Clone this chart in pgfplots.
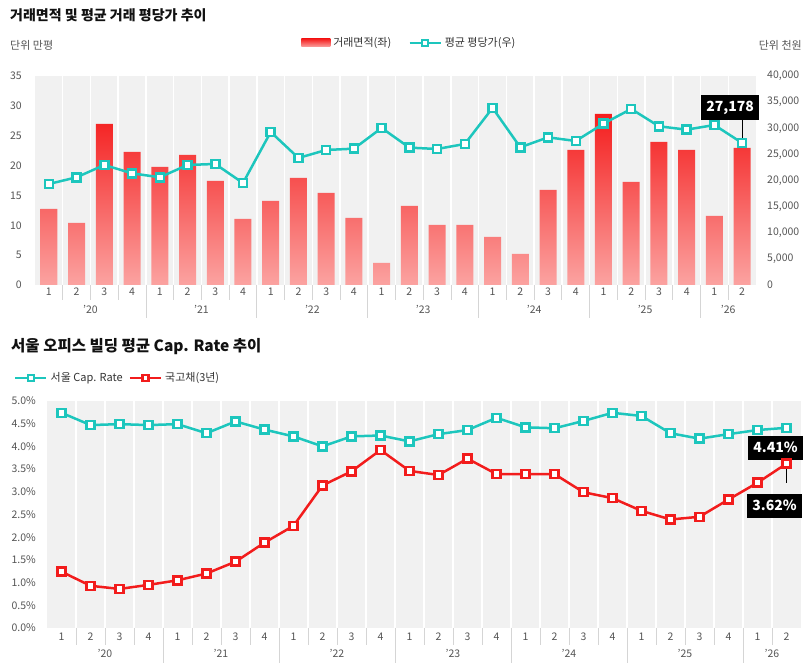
\documentclass[border=0pt]{standalone}
\usepackage{pgfplots}
\usepackage{pgfplotstable}
\pgfplotsset{compat=1.18}
\usepackage{fontspec}
\setmainfont{Noto Sans CJK KR}
\definecolor{tealc}{HTML}{1DC6BD}
\definecolor{redc}{HTML}{F21C1C}
\definecolor{barTop}{HTML}{F41E1E}
\definecolor{barBot}{HTML}{FBA3A1}
\definecolor{bgc}{HTML}{F1F1F1}
\definecolor{tickc}{HTML}{555555}
\definecolor{legc}{HTML}{333333}
\definecolor{sepc}{HTML}{D5D5D5}
\definecolor{titlec}{HTML}{111111}

\pgfplotstableread{
x area price
0 12.73 19330
1 10.39 20610
2 26.97 22970
3 22.28 21370
4 19.77 20610
5 21.78 22970
6 17.42 23160
7 11.06 19520
8 14.07 29280
9 17.92 24310
10 15.41 25840
11 11.22 26090
12 3.69 30050
13 13.23 26290
14 10.05 26030
15 10.05 26990
16 8.04 33880
17 5.19 26350
18 15.91 28260
19 22.61 27560
20 28.64 30880
21 17.25 33690
22 23.95 30370
23 22.61 29730
24 11.56 30620
25 22.95 27178
}\topdata

\pgfplotstableread{
x cap bond
0 4.74 1.24
1 4.47 0.93
2 4.49 0.86
3 4.47 0.95
4 4.49 1.05
5 4.29 1.20
6 4.55 1.46
7 4.37 1.88
8 4.22 2.25
9 4.00 3.14
10 4.22 3.45
11 4.24 3.92
12 4.11 3.46
13 4.27 3.37
14 4.36 3.73
15 4.63 3.39
16 4.42 3.39
17 4.40 3.39
18 4.56 2.99
19 4.74 2.86
20 4.67 2.58
21 4.29 2.39
22 4.17 2.45
23 4.27 2.83
24 4.36 3.20
25 4.41 3.62
}\botdata

\tikzset{
  yearlab/.style={font=\fontsize{10.5}{10.5}\selectfont, text=tickc, inner sep=0pt},
  callout/.style={fill=black, text=white, font=\bfseries\fontsize{14}{14}\selectfont, inner xsep=5pt},
}
\pgfplotsset{
  base/.style={
    scale only axis, clip=false,
    xmin=-0.5, xmax=25.5,
    axis line style={draw=none},
    major tick length=0pt, minor tick length=0pt,
    tick label style={font=\fontsize{10.5}{10.5}\selectfont, text=tickc},
    /pgf/number format/assume math mode=true,
    scaled ticks=false,
  },
  quarters/.style={
    xtick={0,...,25},
    xticklabels={1,2,3,4,1,2,3,4,1,2,3,4,1,2,3,4,1,2,3,4,1,2,3,4,1,2},
    minor xtick={0.5,1.5,...,24.5},
    xminorgrids=true,
    minor grid style={white, line width=1.5pt},
    axis background/.style={fill=bgc},
  },
  lineplot/.style={line width=2.5pt, mark=square*, mark size=4pt,
    mark options={solid, fill=white, line width=2.5pt}},
  lineleg/.style={legend image code/.code={
    \draw[##1, mark=none] (0pt,0pt) -- (31pt,0pt);
    \draw[##1, mark size=3pt] plot coordinates {(15.5pt,0pt)};}},
  barleg/.style={legend image code/.code={
    \shade[top color=barTop, bottom color=barBot, draw=none] (0pt,-4pt) rectangle (29pt,4pt);}},
}

\begin{document}
\begin{tikzpicture}
\path[use as bounding box, fill=white] (0,0) rectangle (812pt,671pt);

% ---------- titles and units ----------
\node[anchor=west, inner sep=0pt, text=titlec, font=\bfseries\fontsize{14}{14}\selectfont] at (10pt,656pt) {거래면적 및 평균 거래 평당가 추이};
\node[anchor=west, inner sep=0pt, text=tickc, font=\fontsize{11}{11}\selectfont] at (10pt,626pt) {단위 만평};
\node[anchor=east, inner sep=0pt, text=tickc, font=\fontsize{11}{11}\selectfont] at (802pt,626pt) {단위 천원};
\node[anchor=west, inner sep=0pt, text=titlec, font=\bfseries\fontsize{15.5}{15.5}\selectfont] at (11pt,324pt) {서울 오피스 빌딩 평균 Cap. Rate 추이};

% ---------- top chart: bars (left axis) ----------
\begin{axis}[base, quarters,
  at={(35pt,386pt)}, anchor=south west, width=721pt, height=209pt,
  ymin=0, ymax=35, ytick={0,5,...,35},
  yticklabel style={anchor=east, inner sep=0pt, xshift=-13pt},
  xticklabel style={anchor=center, inner sep=0pt, yshift=-7pt},
]
\addplot[ybar, bar width=17pt, draw=none, top color=barTop, bottom color=barBot]
  table[x=x, y=area] {\topdata};
\pgfplotsinvokeforeach{0.5,1.5,...,24.5}{
  \draw[sepc, line width=0.8pt] (axis cs:#1,0) -- ++(0pt,-15pt);
}
\pgfplotsinvokeforeach{3.5,7.5,...,23.5}{
  \draw[sepc, line width=0.8pt] (axis cs:#1,0) -- ++(0pt,-33pt);
}
\node[yearlab] at (axis cs:1.5,0) [yshift=-24pt] {’20};
\node[yearlab] at (axis cs:5.5,0) [yshift=-24pt] {’21};
\node[yearlab] at (axis cs:9.5,0) [yshift=-24pt] {’22};
\node[yearlab] at (axis cs:13.5,0) [yshift=-24pt] {’23};
\node[yearlab] at (axis cs:17.5,0) [yshift=-24pt] {’24};
\node[yearlab] at (axis cs:21.5,0) [yshift=-24pt] {’25};
\node[yearlab] at (axis cs:24.5,0) [yshift=-24pt] {’26};
\end{axis}

% ---------- top chart: line (right axis) ----------
\begin{axis}[base,
  at={(35pt,386pt)}, anchor=south west, width=721pt, height=209pt,
  ymin=0, ymax=40000, ytick={0,5000,...,40000},
  axis y line*=right, hide x axis,
  yticklabel style={anchor=west, inner sep=0pt, xshift=11pt},
  yticklabel={\pgfmathprintnumber[1000 sep={,}]{\tick}},
  legend style={at={(axis description cs:0.369,1.158)}, anchor=west,
    draw=none, fill=none, inner sep=0pt, nodes={inner sep=0pt},
    font=\fontsize{11}{11}\selectfont, text=legc,
    /tikz/every odd column/.append style={column sep=3pt},
    /tikz/every even column/.append style={column sep=17pt}},
  legend columns=4, legend cell align=left,
]
\addlegendimage{barleg}
\addlegendentry{거래면적(좌)}
\draw[black, line width=1pt] (axis cs:25,27178) ++(0pt,5pt) -- ++(0pt,18pt);
\addplot[tealc, lineplot, lineleg] table[x=x, y=price] {\topdata};
\addlegendentry{평균 평당가(우)}
\node[callout, minimum height=25pt] at (axis cs:25,27178) [xshift=-12pt, yshift=35pt] {27,178};
\end{axis}

% ---------- bottom chart ----------
\begin{axis}[base, quarters,
  at={(47pt,43pt)}, anchor=south west, width=754pt, height=227pt,
  ymin=0, ymax=5, ytick={0,0.5,...,5},
  yticklabel style={anchor=east, inner sep=0pt, xshift=-11pt},
  yticklabel={\pgfmathprintnumber[fixed, fixed zerofill, precision=1]{\tick}\%},
  xticklabel style={anchor=center, inner sep=0pt, yshift=-9pt},
  legend style={at={(axis description cs:-0.0438,1.101)}, anchor=west,
    draw=none, fill=none, inner sep=0pt, nodes={inner sep=0pt},
    font=\fontsize{11}{11}\selectfont, text=legc,
    /tikz/every odd column/.append style={column sep=3pt},
    /tikz/every even column/.append style={column sep=6pt}},
  legend columns=4, legend cell align=left,
]
\pgfplotsinvokeforeach{0.5,1.5,...,24.5}{
  \draw[sepc, line width=0.8pt] (axis cs:#1,0) -- ++(0pt,-17pt);
}
\pgfplotsinvokeforeach{3.5,7.5,...,23.5}{
  \draw[sepc, line width=0.8pt] (axis cs:#1,0) -- ++(0pt,-35pt);
}
\node[yearlab] at (axis cs:1.5,0) [yshift=-25pt] {’20};
\node[yearlab] at (axis cs:5.5,0) [yshift=-25pt] {’21};
\node[yearlab] at (axis cs:9.5,0) [yshift=-25pt] {’22};
\node[yearlab] at (axis cs:13.5,0) [yshift=-25pt] {’23};
\node[yearlab] at (axis cs:17.5,0) [yshift=-25pt] {’24};
\node[yearlab] at (axis cs:21.5,0) [yshift=-25pt] {’25};
\node[yearlab] at (axis cs:24.5,0) [yshift=-25pt] {’26};
\addplot[tealc, lineplot, lineleg] table[x=x, y=cap] {\botdata};
\addlegendentry{서울 Cap. Rate}
\draw[black, line width=1pt] (axis cs:25,3.62) ++(0pt,3.7pt) -- ++(0pt,-23pt);
\addplot[redc, lineplot, lineleg] table[x=x, y=bond] {\botdata};
\addlegendentry{국고채(3년)}
\node[callout, minimum height=24pt] at (axis cs:25,4.41) [xshift=-11pt, yshift=-20pt] {4.41\%};
\node[callout, minimum height=24pt] at (axis cs:25,3.62) [xshift=-12pt, yshift=-42pt] {3.62\%};
\end{axis}
\end{tikzpicture}
\end{document}
